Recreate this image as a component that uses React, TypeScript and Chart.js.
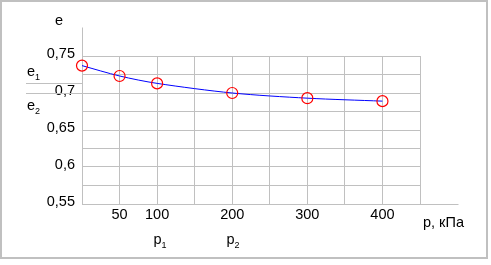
import React, { useEffect, useRef } from "react";
import { Chart, registerables } from "chart.js";

Chart.register(...registerables);

const pressures = [0, 50, 100, 200, 300, 400];
const voidRatios = [0.737, 0.723, 0.713, 0.7, 0.693, 0.689];
const xLabelValues = [50, 100, 200, 300, 400];
const xAxisTitle = "p, кПа";
const yAxisTitle = "e";

const FONT = "'Liberation Sans', Arial, sans-serif";
const GRID = "#c0c0c0";
const FS = 14.5;

const decorations = {
  id: "decorations",
  afterDraw(chart: any) {
    const ctx = chart.ctx as CanvasRenderingContext2D;
    const xs = chart.scales.x;
    const ys = chart.scales.y;
    const area = chart.chartArea;
    const al = (v: number) => Math.round(v) + 0.5;
    ctx.save();
    // outer frame
    ctx.strokeStyle = GRID;
    ctx.lineWidth = 2;
    ctx.strokeRect(1, 1, 486, 257);
    // axis extensions
    ctx.lineWidth = 1;
    ctx.beginPath();
    ctx.moveTo(al(area.left), al(ys.getPixelForValue(0.789)));
    ctx.lineTo(al(area.left), al(area.top));
    ctx.moveTo(al(area.right), al(area.bottom));
    ctx.lineTo(al(xs.getPixelForValue(500)), al(area.bottom));
    // e1 / e2 leader lines
    const y1 = al(ys.getPixelForValue(voidRatios[2]));
    const y2 = al(ys.getPixelForValue(voidRatios[3]));
    ctx.moveTo(26, y1);
    ctx.lineTo(al(area.left), y1);
    ctx.moveTo(26, y2);
    ctx.lineTo(al(area.left), y2);
    ctx.stroke();

    ctx.fillStyle = "#000";
    ctx.textBaseline = "alphabetic";
    const main = `${FS}px ${FONT}`;
    const sub = `9px ${FONT}`;
    const withSub = (t: string, s: string, x: number, y: number) => {
      ctx.font = main;
      ctx.textAlign = "left";
      ctx.fillText(t, x, y);
      const w = ctx.measureText(t).width;
      ctx.font = sub;
      ctx.fillText(s, x + w, y + 4);
    };
    // y title
    ctx.font = main;
    ctx.textAlign = "center";
    ctx.fillText(yAxisTitle, 59, 25);
    // x title
    ctx.textAlign = "left";
    ctx.fillText(xAxisTitle, 423, 227);
    // e1, e2
    withSub("e", "1", 27, 76);
    withSub("e", "2", 27, 110);
    // p1, p2
    withSub("p", "1", al(xs.getPixelForValue(pressures[2])) - 4, 244);
    withSub("p", "2", al(xs.getPixelForValue(pressures[3])) - 6, 244);
    ctx.restore();
  },
};

export default function App() {
  const ref = useRef<HTMLCanvasElement | null>(null);
  useEffect(() => {
    if (!ref.current) return;
    const chart = new Chart(ref.current, {
      type: "line",
      data: {
        labels: pressures,
        datasets: [
          {
            data: pressures.map((p, i) => ({ x: p, y: voidRatios[i] })),
            borderColor: "#0000ff",
            borderWidth: 1,
            tension: 0.3,
            pointRadius: 5.5,
            pointBorderColor: "#ff0000",
            pointBackgroundColor: "rgba(0,0,0,0)",
            pointBorderWidth: 1.2,
            clip: false as any,
          },
        ],
      },
      options: {
        responsive: false,
        animation: false,
        events: [],
        layout: { padding: { left: 0, top: 56, right: 71, bottom: 0 } },
        plugins: { legend: { display: false }, tooltip: { enabled: false } },
        scales: {
          x: {
            type: "linear",
            min: 0,
            max: 450,
            afterFit: (s: any) => {
              s.height = 61;
            },
            grid: { color: GRID, drawTicks: false },
            border: { color: GRID },
            ticks: {
              stepSize: 50,
              padding: 2,
              color: "#000",
              font: { family: FONT, size: FS },
              maxRotation: 0,
              autoSkip: false,
              callback: (v: any) => (xLabelValues.includes(Math.round(Number(v))) ? String(Math.round(Number(v))) : ""),
            },
          },
          y: {
            type: "linear",
            min: 0.55,
            max: 0.75,
            afterFit: (s: any) => {
              s.width = 82;
            },
            grid: { color: GRID, drawTicks: false },
            border: { color: GRID },
            ticks: {
              stepSize: 0.025,
              padding: 7,
              labelOffset: -2,
              color: "#000",
              autoSkip: false,
              font: { family: FONT, size: FS },
              callback: (v: any) => {
                const m = Math.round(Number(v) * 1000);
                if (m % 50 !== 0) return "";
                return (m / 1000).toString().replace(".", ",");
              },
            },
          },
        },
      },
      plugins: [decorations],
    });
    return () => chart.destroy();
  }, []);
  return (
    <div style={{ position: "fixed", left: 0, top: 0, width: 491, height: 265, background: "#fff" }}>
      <canvas ref={ref} width={491} height={265} style={{ display: "block" }} />
    </div>
  );
}
